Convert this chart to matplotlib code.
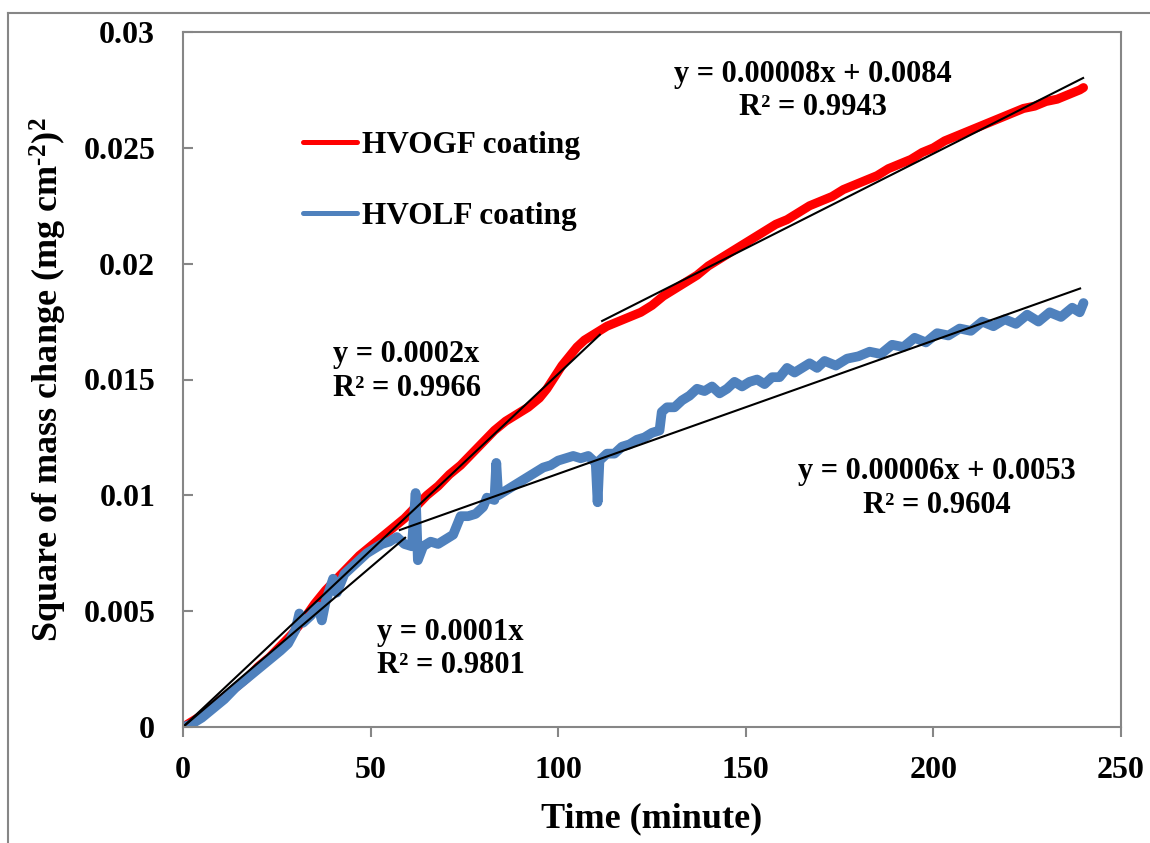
import matplotlib
matplotlib.use("Agg")
import numpy as np
from matplotlib import pyplot as plt
from matplotlib.lines import Line2D
from matplotlib.ticker import FuncFormatter

# HVOGF coating, square of mass change vs time
gf_time = [0, 2, 5, 8, 11, 14, 17, 20, 23, 26, 29, 32, 35, 38, 41, 44, 47, 50, 53, 56,
           59, 62, 65, 68, 71, 74, 77, 80, 83, 86, 89, 92, 95, 97, 99, 101, 103, 105, 107, 109,
           111, 113, 116, 119, 122, 125, 128, 131, 134, 137, 140, 143, 146, 149, 152, 155, 158, 161, 164, 167,
           170, 173, 176, 179, 182, 185, 188, 191, 194, 197, 200, 203, 206, 209, 212, 215, 218, 221, 224, 227,
           230, 233, 236, 239, 240]
gf_mass = [0, 0.0002, 0.0005, 0.0009, 0.0013, 0.0017, 0.0021, 0.0026, 0.0030, 0.0035,
           0.0040, 0.0046, 0.0053, 0.0059, 0.0064, 0.0069, 0.0074, 0.0078, 0.0082, 0.0086,
           0.0090, 0.0095, 0.0100, 0.0104, 0.0109, 0.0113, 0.0118, 0.0123, 0.0128, 0.0132,
           0.0135, 0.0138, 0.0142, 0.0146, 0.0151, 0.0156, 0.0160, 0.0164, 0.0167, 0.0169,
           0.0171, 0.0173, 0.0175, 0.0177, 0.0179, 0.0182, 0.0186, 0.0189, 0.0192, 0.0195,
           0.0199, 0.0202, 0.0205, 0.0208, 0.0211, 0.0214, 0.0217, 0.0219, 0.0222, 0.0225,
           0.0227, 0.0229, 0.0232, 0.0234, 0.0236, 0.0238, 0.0241, 0.0243, 0.0245, 0.0248,
           0.0250, 0.0253, 0.0255, 0.0257, 0.0259, 0.0261, 0.0263, 0.0265, 0.0267, 0.0268,
           0.0270, 0.0271, 0.0273, 0.0275, 0.0276]

# HVOLF coating
lf_time = [0, 2, 5, 8, 11, 14, 17, 20, 23, 26, 28, 30, 31, 32, 34, 36, 37, 38, 40, 41,
           43, 45, 47, 49, 51, 53, 55, 57, 59, 61, 62, 62.6, 64, 66, 68, 70, 72, 74, 76, 78,
           80, 81, 83, 83.5, 84, 86, 88, 90, 92, 94, 96, 98, 100, 102, 104, 106, 108, 110, 110.5, 111,
           113, 115, 117, 119, 121, 123, 125, 127, 127.6, 129, 131, 133, 135, 137, 139, 141, 143, 145, 147, 149,
           151, 153, 155, 157, 159, 161, 163, 165, 167, 169, 171, 174, 177, 180, 183, 186, 189, 192, 195, 198,
           201, 204, 207, 210, 213, 216, 219, 222, 225, 228, 231, 234, 237, 239, 240]
lf_mass = [0, 0.0001, 0.0004, 0.0008, 0.0012, 0.0017, 0.0021, 0.0025, 0.0029, 0.0033,
           0.0036, 0.0042, 0.0049, 0.0045, 0.0048, 0.0052, 0.0046, 0.0054, 0.0064, 0.0058,
           0.0066, 0.0069, 0.0072, 0.0075, 0.0077, 0.0079, 0.0080, 0.0082, 0.0079, 0.0078,
           0.0101, 0.0072, 0.0078, 0.0080, 0.0079, 0.0081, 0.0083, 0.0091, 0.0091, 0.0092,
           0.0095, 0.0099, 0.0098, 0.0114, 0.0100, 0.0102, 0.0104, 0.0106, 0.0108, 0.0110,
           0.0112, 0.0113, 0.0115, 0.0116, 0.0117, 0.0116, 0.0117, 0.0114, 0.0097, 0.0115,
           0.0118, 0.0118, 0.0121, 0.0122, 0.0124, 0.0125, 0.0127, 0.0128, 0.0136, 0.0138,
           0.0138, 0.0141, 0.0143, 0.0146, 0.0145, 0.0147, 0.0144, 0.0146, 0.0149, 0.0147,
           0.0149, 0.0150, 0.0148, 0.0151, 0.0151, 0.0155, 0.0153, 0.0155, 0.0157, 0.0155,
           0.0158, 0.0156, 0.0159, 0.0160, 0.0162, 0.0161, 0.0165, 0.0164, 0.0168, 0.0166,
           0.0170, 0.0169, 0.0172, 0.0171, 0.0175, 0.0173, 0.0176, 0.0174, 0.0178, 0.0175,
           0.0179, 0.0177, 0.0181, 0.0179, 0.0183]

# trend lines as drawn in the picture: slope, intercept, start, end
fit_slope = [0.0001524, 0.0000818, 0.000138, 0.0000575]
fit_icept = [0.0, 0.00839, 0.0, 0.00518]
fit_start = [0, 111.7, 0, 57.8]
fit_end = [111.1, 239.9, 59.2, 239.1]

fit_labels = ["y = 0.0002x\nR² = 0.9966",
              "y = 0.00008x + 0.0084\nR² = 0.9943",
              "y = 0.0001x\nR² = 0.9801",
              "y = 0.00006x + 0.0053\nR² = 0.9604"]

RED = "#ff0000"
BLUE = "#4f81bd"
GREY = "#868686"

plt.rcParams["font.family"] = ["Liberation Serif", "DejaVu Serif"]
plt.rcParams["font.weight"] = "bold"
plt.rcParams["mathtext.fontset"] = "custom"
plt.rcParams["mathtext.rm"] = "Liberation Serif:bold"
plt.rcParams["mathtext.default"] = "rm"

fig = plt.figure(figsize=(11.5, 8.43), dpi=100)
ax = fig.add_axes([183 / 1150, 1 - 727 / 843, (1121 - 183) / 1150, (727 - 32) / 843])

# outer frame of the figure (only left and top edges are visible)
fig.add_artist(Line2D([8 / 1150, 8 / 1150], [0, 1 - 13 / 843], color=GREY, lw=1.5))
fig.add_artist(Line2D([8 / 1150, 1], [1 - 13 / 843, 1 - 13 / 843], color=GREY, lw=1.5))

l1, = ax.plot(gf_time, gf_mass, color=RED, lw=6.5, solid_capstyle="round", solid_joinstyle="round",
              label="HVOGF coating")
l2, = ax.plot(lf_time, lf_mass, color=BLUE, lw=7, solid_capstyle="round", solid_joinstyle="round",
              label="HVOLF coating")

for k in range(len(fit_slope)):
    xs = np.array([fit_start[k], fit_end[k]])
    ax.plot(xs, fit_slope[k] * xs + fit_icept[k], color="black", lw=1.5)

ax.text(40, 0.01535, fit_labels[0], fontsize=22, ha="left", va="center", linespacing=1.2)
ax.text(168, 0.02745, fit_labels[1], fontsize=22, ha="center", va="center", linespacing=1.2)
ax.text(51.7, 0.00337, fit_labels[2], fontsize=22, ha="left", va="center", linespacing=1.2)
ax.text(201, 0.0103, fit_labels[3], fontsize=22, ha="center", va="center", linespacing=1.2)

ax.set_xlim(0, 250)
ax.set_ylim(0, 0.03)
ax.set_xticks(np.arange(0, 251, 50))
ax.set_yticks(np.arange(0, 0.0301, 0.005))
ax.yaxis.set_major_formatter(FuncFormatter(lambda v, p: "%g" % round(v, 4)))

for s in ax.spines.values():
    s.set_color(GREY)
    s.set_linewidth(1.5)
ax.tick_params(axis="x", direction="out", length=7, width=1.5, color=GREY, pad=14, labelsize=23)
ax.tick_params(axis="y", direction="in", length=7, width=1.5, color=GREY, pad=20, labelsize=23)

ax.set_xlabel("Time (minute)", fontsize=26, fontweight="bold", labelpad=12)
ax.set_ylabel("Square of mass change (mg cm$^{\u2010 2}$)$^{2}$", fontsize=26, fontweight="bold", labelpad=10)

leg = ax.legend(handles=[l1, l2], loc="upper left", bbox_to_anchor=(0.111, 0.88), frameon=False,
                fontsize=22.5, handlelength=1.75, handletextpad=0.15, labelspacing=1.35, borderpad=0)
for ln in leg.get_lines():
    ln.set_linewidth(3.6)

fig.savefig("out.png", dpi=100)
